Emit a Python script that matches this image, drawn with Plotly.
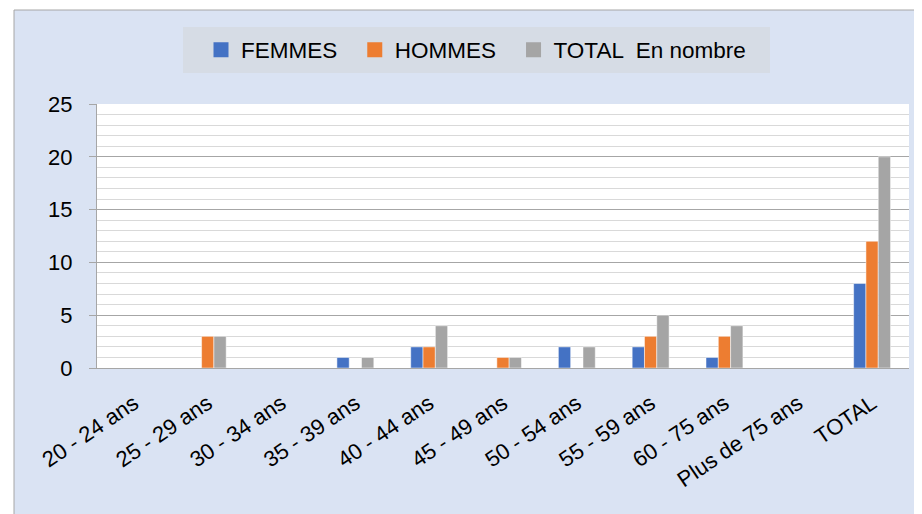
import plotly.graph_objects as go

categories = ["20 - 24 ans", "25 - 29 ans", "30 - 34 ans", "35 - 39 ans", "40 - 44 ans",
              "45 - 49 ans", "50 - 54 ans", "55 - 59 ans", "60 - 75 ans", "Plus de 75 ans", "TOTAL"]
femmes = [0, 0, 0, 1, 2, 0, 2, 2, 1, 0, 8]
hommes = [0, 3, 0, 0, 2, 1, 0, 3, 3, 0, 12]
total = [0, 3, 0, 1, 4, 1, 2, 5, 4, 0, 20]

series_names = ["FEMMES", "HOMMES", "TOTAL \u00a0En nombre"]
legend_labels = ["FEMMES\u00a0\u00a0", "HOMMES\u00a0\u00a0", "TOTAL \u00a0En nombre"]
colors = ["#4472C4", "#ED7D31", "#A5A5A5"]

# page is offset by 8px body margin -> figure of 914x506
W, H = 914, 506
L, R, T, B = 89, 13, 96, 146
pw, ph = W - L - R, H - T - B

def px_x(p):
    return (p - L) / pw

def px_y(p):
    return (H - B - p) / ph

fig = go.Figure()
for name, vals, col in zip(series_names, [femmes, hommes, total], colors):
    fig.add_trace(go.Bar(x=categories, y=vals, name=name, marker_color=col,
                         marker_line=dict(color="white", width=0.5), showlegend=False))
for name, col in zip(legend_labels, colors):
    fig.add_trace(go.Scatter(x=[None], y=[None], mode="markers", name=name,
                             marker=dict(symbol="square", size=15, color=col)))

FONT = "Liberation Sans"
fig.update_layout(
    width=W, height=H,
    margin=dict(l=L, r=R, t=T, b=B),
    paper_bgcolor="white",
    plot_bgcolor="white",
    barmode="group",
    bargap=0.5,
    bargroupgap=0.0,
    font=dict(family=FONT, size=19, color="#000000"),
    legend=dict(orientation="h", x=px_x(468), xanchor="center", y=px_y(42), yanchor="middle",
                bgcolor="rgba(0,0,0,0)", font=dict(size=22.5, family=FONT),
                itemwidth=30, traceorder="normal"),
    xaxis=dict(showgrid=False, showline=True, linecolor="#A6A6A6", linewidth=1,
               tickangle=-34, tickfont=dict(size=22), ticks="", ticklabelstandoff=13),
    yaxis=dict(range=[0, 25], dtick=5, showline=True, linecolor="#A6A6A6", linewidth=1,
               showgrid=True, gridcolor="#A6A6A6", gridwidth=1,
               ticks="outside", ticklen=7, tickcolor="#A6A6A6", ticklabelstandoff=12,
               minor=dict(dtick=1, showgrid=True, gridcolor="#D9D9D9", gridwidth=1),
               zeroline=False, tickfont=dict(size=22)),
    shapes=[
        dict(type="rect", xref="paper", yref="paper", x0=px_x(6), x1=px_x(W + 20),
             y0=px_y(H + 20), y1=px_y(2), fillcolor="#DAE3F3",
             line=dict(color="#A6A6A6", width=1), layer="below"),
        dict(type="rect", xref="paper", yref="paper", x0=0, x1=1, y0=0, y1=1,
             fillcolor="white", line=dict(width=0), layer="below"),
        dict(type="rect", xref="paper", yref="paper", x0=px_x(175), x1=px_x(762),
             y0=px_y(65), y1=px_y(19), fillcolor="#D6DCE5", line=dict(width=0), layer="below"),
    ],
)

fig.write_html("out.html")
